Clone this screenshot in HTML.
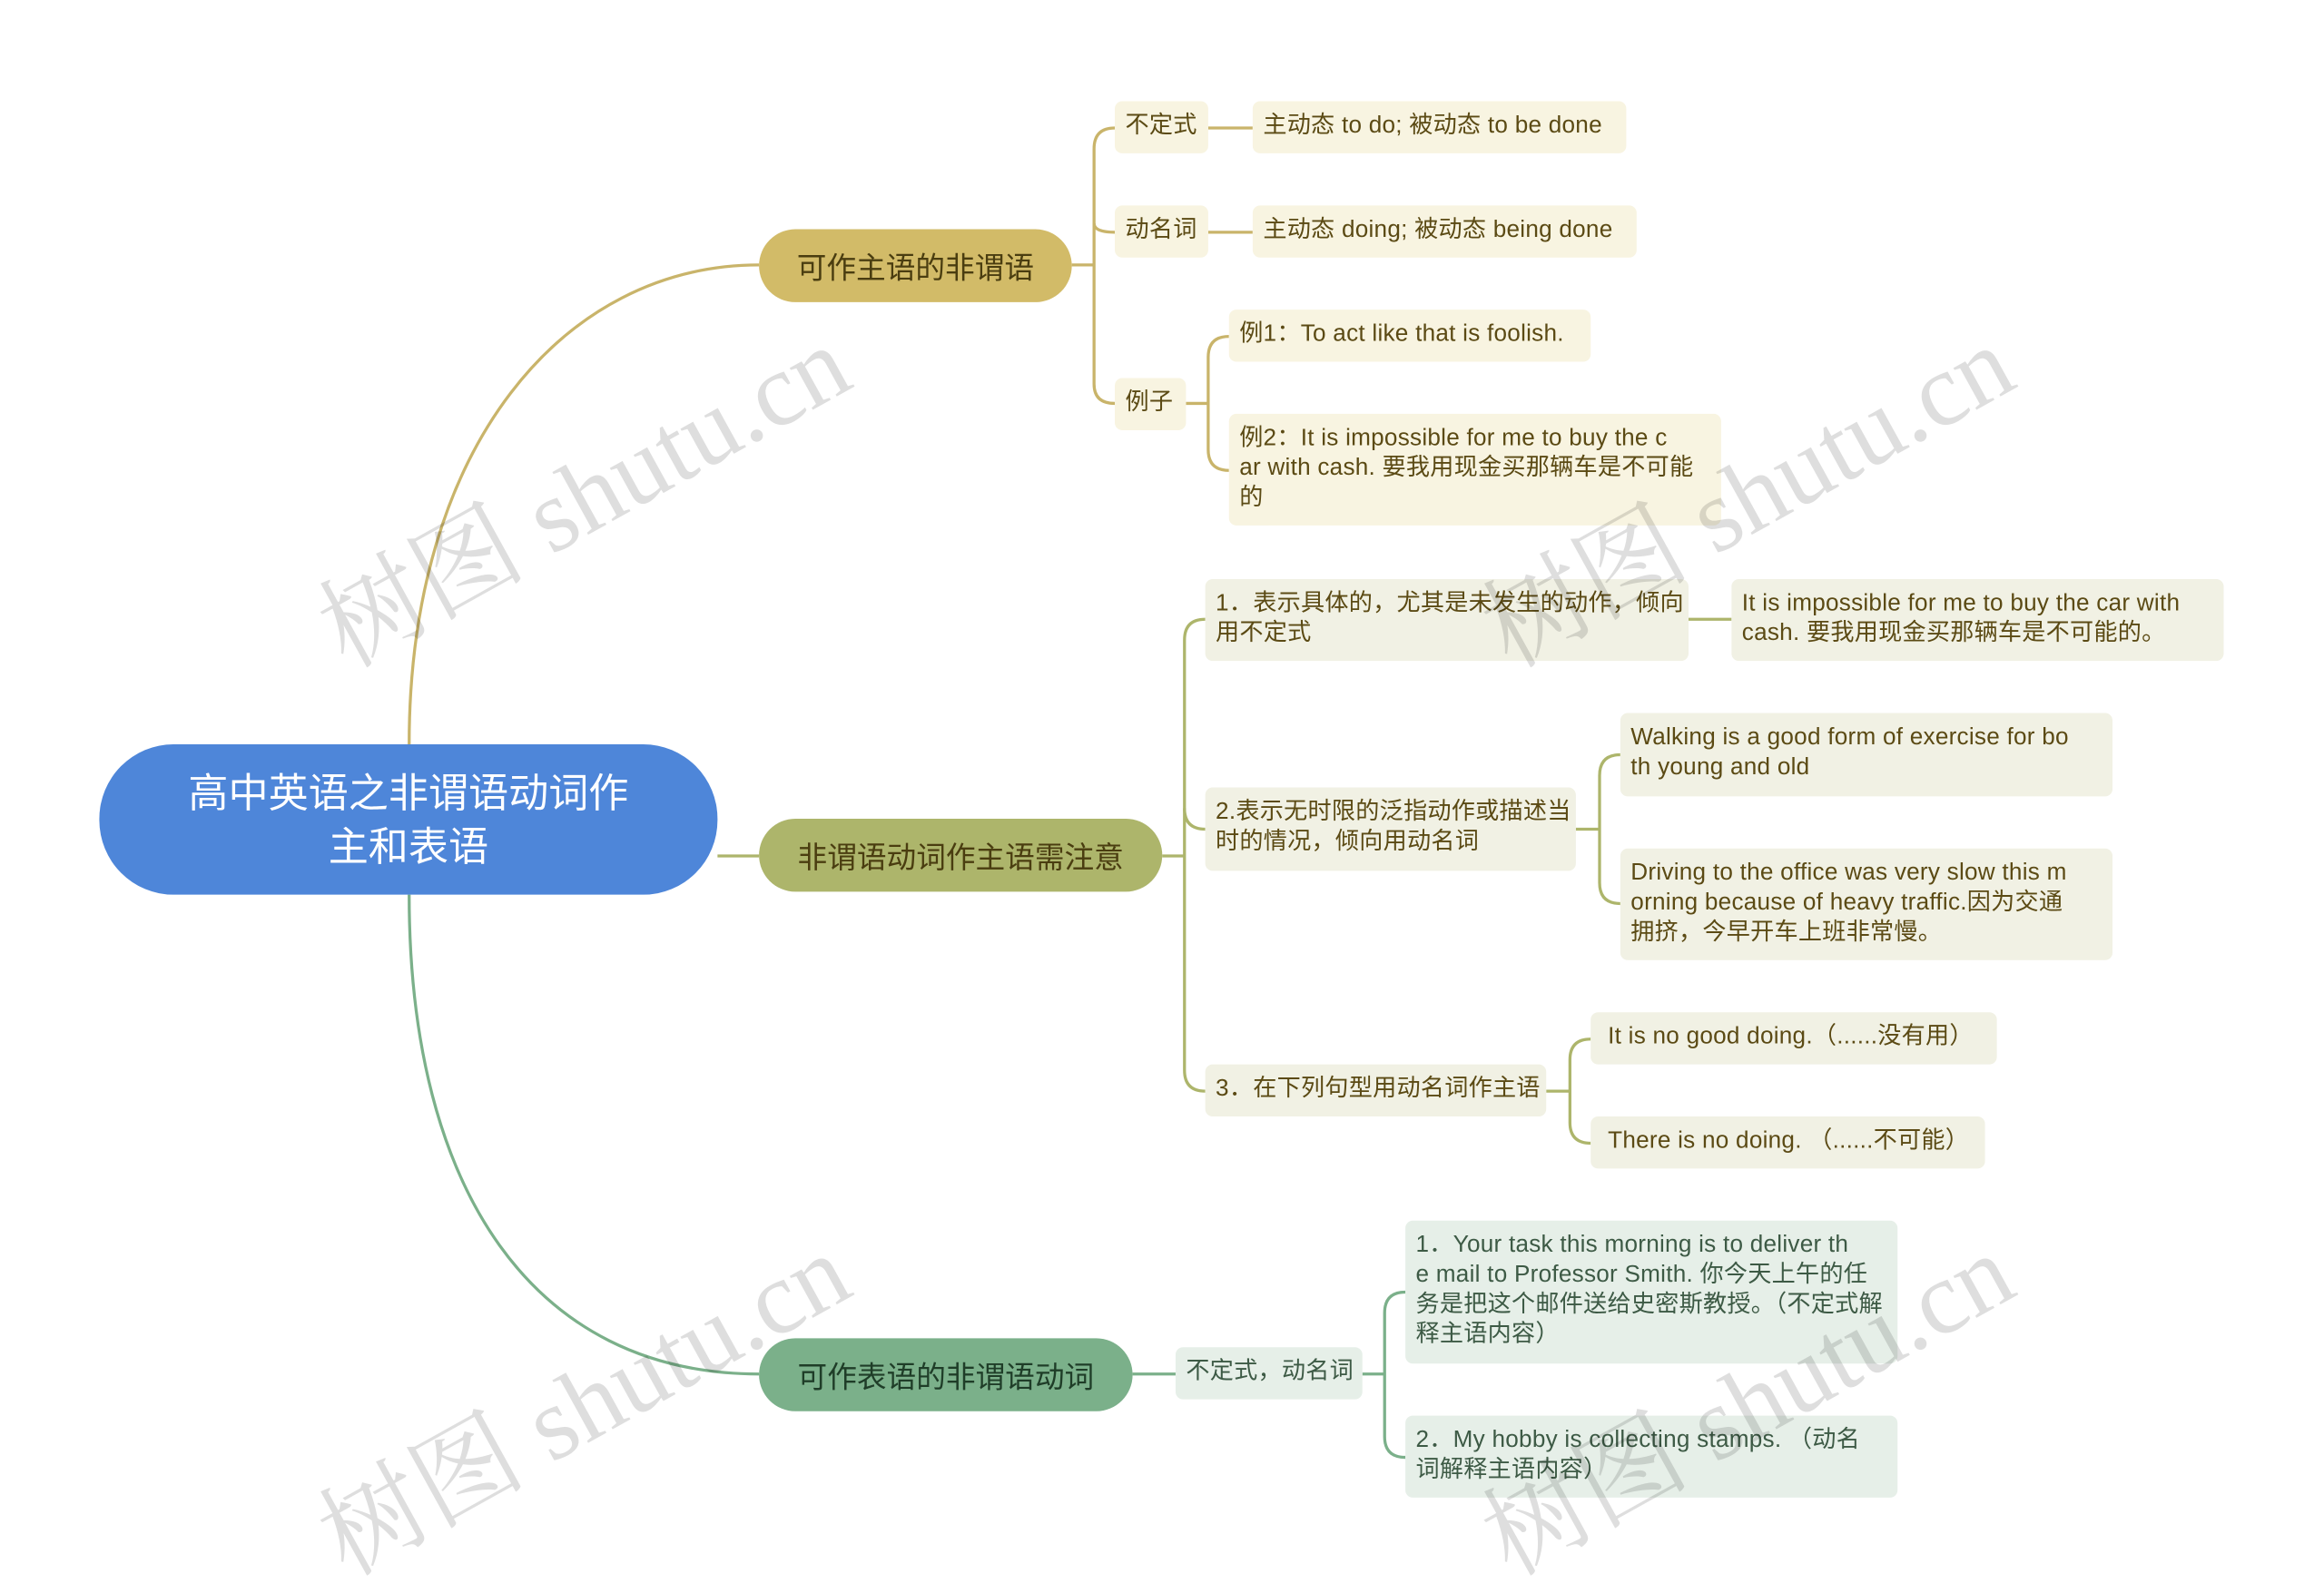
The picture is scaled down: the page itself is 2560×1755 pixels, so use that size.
<!DOCTYPE html>
<html><head><meta charset="utf-8"><style>
html,body{margin:0;padding:0;background:#fff;}
#wrap{width:2560px;height:1755px;overflow:hidden;position:relative;background:#fff;}
#s{position:absolute;left:0;top:0;width:1560px;height:1070px;transform:scale(1.633,1.64);transform-origin:0 0;font-family:"Liberation Sans","Noto Sans CJK SC",sans-serif;}
.n{position:absolute;box-sizing:border-box;color:#5b4a14;font-size:16px;letter-spacing:0.15px;line-height:20px;padding:7px 7px;border-radius:5px;white-space:nowrap;}
.y{background:#f8f4e1;}
.o{background:#f1f1e4;}
.g{background:#e6efe8;color:#3d5a45;}
.b{position:absolute;box-sizing:border-box;border-radius:25px;font-size:20px;display:flex;align-items:center;justify-content:center;color:#4a3d10;}
.wm{position:absolute;font-family:"Liberation Serif","Noto Serif CJK SC",serif;font-size:70px;color:rgba(0,0,0,0.13);transform:rotate(-29deg);white-space:nowrap;}
svg{position:absolute;left:0;top:0;}
</style></head><body><div id="wrap"><div id="s">
<svg width="1560" height="1070" fill="none" stroke-width="2">
<path d="M276 500 C276 300 380 178 512 178" stroke="#c9b46a"/>
<path d="M484 575 H512" stroke="#adb56b"/>
<path d="M276 601 C276 800 360 923 512 923" stroke="#7bb08a"/>
<g stroke="#c9b46a">
<path d="M723 178 H738"/>
<path d="M752 86 Q738 86 738 100 V258 Q738 271 752 271"/>
<path d="M738 150 Q738 156 752 156"/>
<path d="M815 86 H845"/><path d="M815 156 H845"/>
<path d="M800 271 H815"/>
<path d="M829 226 Q815 226 815 240 V302 Q815 316 829 316"/>
</g>
<g stroke="#adb56b">
<path d="M784 575 H799"/>
<path d="M813 416 Q799 416 799 430 V719 Q799 733 813 733"/>
<path d="M799 543 Q799 557 813 557"/>
<path d="M1139 416 H1168"/>
<path d="M1063 557 H1079"/>
<path d="M1093 507 Q1079 507 1079 521 V593 Q1079 607 1093 607"/>
<path d="M1043 733 H1059"/>
<path d="M1073 698 Q1059 698 1059 712 V754 Q1059 768 1073 768"/>
</g>
<g stroke="#7bb08a">
<path d="M764 923 H793"/>
<path d="M919 923 H934"/>
<path d="M948 868 Q934 868 934 882 V965 Q934 979 948 979"/>
</g>
</svg>
<div class="b" style="left:67px;top:500px;width:417px;height:101px;border-radius:50px;background:#4e86d9;color:#fff;font-size:27px;line-height:36px;text-align:center;">高中英语之非谓语动词作<br>主和表语</div>
<div class="b" style="left:512px;top:154px;width:211px;height:49px;background:#d2bb68;">可作主语的非谓语</div>
<div class="b" style="left:512px;top:550px;width:272px;height:49px;background:#adb56b;">非谓语动词作主语需注意</div>
<div class="b" style="left:512px;top:899px;width:252px;height:49px;background:#7bb08a;color:#1f3d28;">可作表语的非谓语动词</div>

<div class="n y" style="left:752px;top:68px;width:63px;height:35px;">不定式</div>
<div class="n y" style="left:845px;top:68px;width:252px;height:35px;">主动态 to do; 被动态 to be done</div>
<div class="n y" style="left:752px;top:138px;width:63px;height:35px;">动名词</div>
<div class="n y" style="left:845px;top:138px;width:259px;height:35px;">主动态 doing; 被动态 being done</div>
<div class="n y" style="left:752px;top:254px;width:48px;height:35px;">例子</div>
<div class="n y" style="left:829px;top:208px;width:244px;height:35px;">例1：To act like that is foolish.</div>
<div class="n y" style="left:829px;top:278px;width:332px;height:75px;"> 例2：It is impossible for me to buy the c<br>ar with cash. 要我用现金买那辆车是不可能<br>的</div>

<div class="n o" style="left:813px;top:389px;width:326px;height:55px;">1．表示具体的，尤其是未发生的动作，倾向<br>用不定式</div>
<div class="n o" style="left:1168px;top:389px;width:332px;height:55px;">It is impossible for me to buy the car with<br> cash. 要我用现金买那辆车是不可能的。</div>
<div class="n o" style="left:813px;top:529px;width:250px;height:56px;">2.表示无时限的泛指动作或描述当<br>时的情况，倾向用动名词</div>
<div class="n o" style="left:1093px;top:479px;width:332px;height:56px;">Walking is a good form of exercise for bo<br>th young and old</div>
<div class="n o" style="left:1093px;top:570px;width:332px;height:75px;">Driving to the office was very slow this m<br>orning because of heavy traffic.因为交通<br>拥挤，今早开车上班非常慢。</div>
<div class="n o" style="left:813px;top:715px;width:230px;height:35px;">3．在下列句型用动名词作主语</div>
<div class="n o" style="left:1073px;top:680px;width:274px;height:35px;">&nbsp;It is no good doing.（......没有用）</div>
<div class="n o" style="left:1073px;top:750px;width:266px;height:35px;">&nbsp;There is no doing. （......不可能）</div>

<div class="n g" style="left:793px;top:905px;width:126px;height:35px;">不定式，动名词</div>
<div class="n g" style="left:948px;top:820px;width:332px;height:96px;">1．Your task this morning is to deliver th<br>e mail to Professor Smith. 你今天上午的任<br>务是把这个邮件送给史密斯教授。（不定式解<br>释主语内容）</div>
<div class="n g" style="left:948px;top:951px;width:332px;height:55px;">2．My hobby is collecting stamps. （动名<br>词解释主语内容）</div>

<div class="wm" style="left:195px;top:278px;">树图 shutu.cn</div>
<div class="wm" style="left:980px;top:278px;">树图 shutu.cn</div>
<div class="wm" style="left:195px;top:888px;">树图 shutu.cn</div>
<div class="wm" style="left:980px;top:888px;">树图 shutu.cn</div>
</div></div></body></html>
